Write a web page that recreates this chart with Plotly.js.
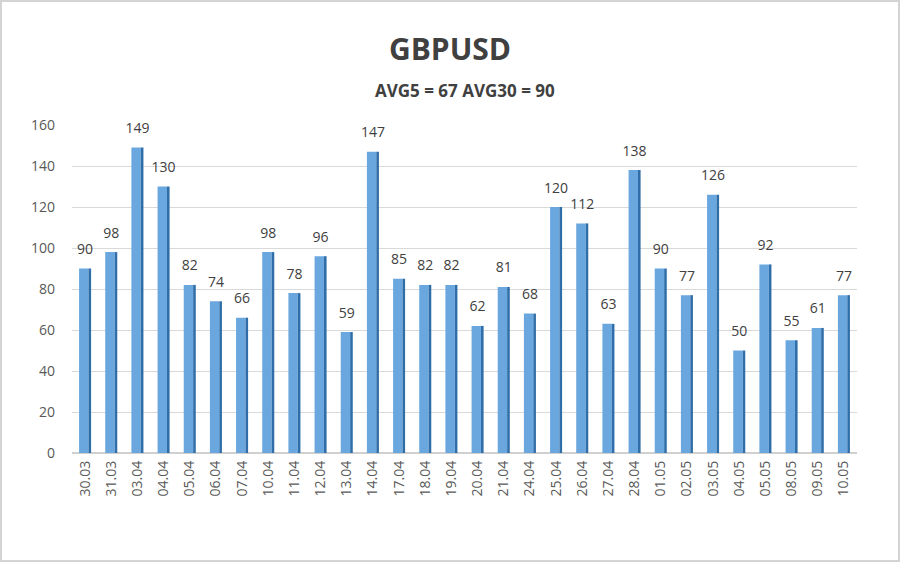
<!DOCTYPE html>
<html><head><meta charset="utf-8">
<script src="https://cdn.plot.ly/plotly-3.0.1.min.js"></script>
<style>html,body{margin:0;padding:0;background:#fff;}#chart{width:896px;height:558px;border:2px solid #d4d4d4;}</style>
</head><body><div id="chart"></div>
<script>
const dates = ['30.03','31.03','03.04','04.04','05.04','06.04','07.04','10.04','11.04','12.04','13.04','14.04','17.04','18.04','19.04','20.04','21.04','24.04','25.04','26.04','27.04','28.04','01.05','02.05','03.05','04.05','05.05','08.05','09.05','10.05'];
const values = [90,98,149,130,82,74,66,98,78,96,59,147,85,82,82,62,81,68,120,112,63,138,90,77,126,50,92,55,61,77];
const chartTitle = 'GBPUSD';
const subTitle = 'AVG5 = 67 AVG30 = 90';
const yTicks = [0,20,40,60,80,100,120,140,160];

const front = {
  type:'bar', x:dates, y:values, width:0.36, offset:-0.23,
  marker:{color:'#6aa7de', line:{width:0}},
  hoverinfo:'x+y', showlegend:false
};
const side = {
  type:'bar', x:dates, y:values, width:0.1, offset:0.13,
  marker:{color:'#2f6ea8', line:{width:0}}, hoverinfo:'skip', showlegend:false
};
const labels = {
  type:'scatter', mode:'markers+text', x:dates, y:values, text:values.map(String),
  marker:{size:16, color:'rgba(0,0,0,0)'},
  textposition:'top center', textfont:{family:'Open Sans, sans-serif', size:14, color:'#404040'},
  hoverinfo:'skip', showlegend:false, cliponaxis:false
};
const layout = {
  width:896, height:558,
  margin:{l:70, r:41, t:123, b:107},
  paper_bgcolor:'#ffffff', plot_bgcolor:'#ffffff',
  barmode:'overlay',
  title:{text:'<b>'+chartTitle+'</b>', x:0.5, xanchor:'center', y:0.915, yref:'container', yanchor:'middle',
    font:{family:'Open Sans, sans-serif', size:30, color:'#404040'}},
  annotations:[{text:'<b>'+subTitle+'</b>', xref:'paper', yref:'paper', x:0.5, y:1.105, xanchor:'center', yanchor:'middle',
    showarrow:false, font:{family:'Open Sans, sans-serif', size:17, color:'#404040'}}],
  xaxis:{type:'category', tickangle:-90, tickfont:{family:'Open Sans, sans-serif', size:14, color:'#595959'},
    showgrid:false, zeroline:false, showline:false, ticks:'', range:[-0.5, dates.length-0.5], ticklabelstandoff:4},
  yaxis:{range:[0,160], tickvals:yTicks, tickfont:{family:'Open Sans, sans-serif', size:14, color:'#595959'},
    showgrid:true, gridcolor:'#d9d9d9', gridwidth:1, zeroline:true, zerolinecolor:'#d0d0d0', zerolinewidth:2,
    showline:false, ticks:'', ticklabelstandoff:16}
};
Plotly.newPlot('chart',[front,side,labels],layout,{staticPlot:true});
</script></body></html>
